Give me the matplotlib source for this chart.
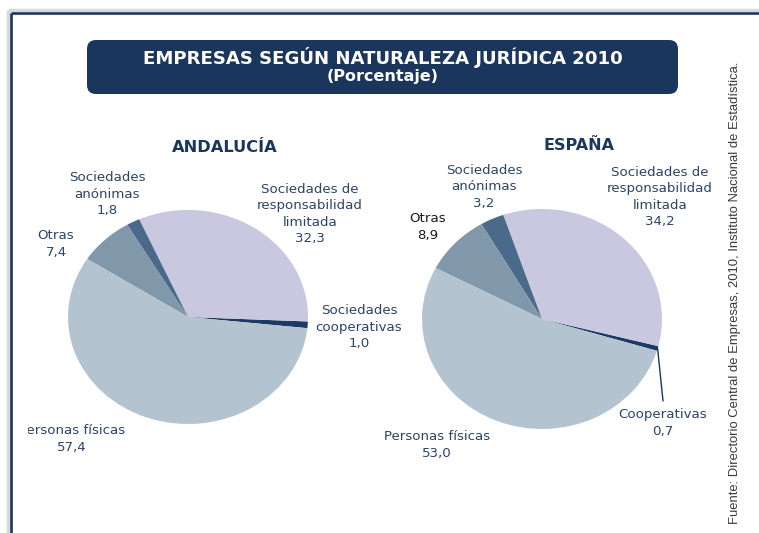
import matplotlib.pyplot as plt
import numpy as np
from matplotlib.patches import ConnectionPatch, FancyBboxPatch, Rectangle

W, H = 759, 533

# datos (porcentaje), en orden antihorario desde las 3 en punto
categories = ["Cooperativas", "Sociedades de responsabilidad limitada",
              "Sociedades anónimas", "Otras", "Personas físicas"]
andalucia_values = [1.0, 32.3, 1.8, 7.4, 57.4]
espana_values = [0.7, 34.2, 3.2, 8.9, 53.0]

andalucia_labels = ["Sociedades\ncooperativas", "Sociedades de\nresponsabilidad\nlimitada",
                    "Sociedades\nanónimas", "Otras", "Personas físicas"]
espana_labels = ["Cooperativas", "Sociedades de\nresponsabilidad\nlimitada",
                 "Sociedades\nanónimas", "Otras", "Personas físicas"]

colors = ["#1d3a66", "#cac8e0", "#4b6a8a", "#8197aa", "#b3c3cf"]
NAVY = "#1b365d"
TEXT = "#2c4466"

# posiciones de las etiquetas (pixeles de la imagen)
andalucia_label_pos = [(359, 327), (310, 214), (107, 194), (56, 244), (72, 439)]
espana_label_pos = [(663, 423), (660, 197), (484, 187), (428, 227), (437, 445)]


def fmt(v):
    return f"{v:.1f}".replace(".", ",")


fig = plt.figure(figsize=(W / 100, H / 100), dpi=100)
bg = fig.add_axes([0, 0, 1, 1])
bg.set_xlim(0, W)
bg.set_ylim(H, 0)
bg.axis("off")

# marco
bg.plot([8, 8], [10, H], color="#d8d8d8", lw=2.5, solid_capstyle="butt")
bg.plot([8, W], [10, 10], color="#d8d8d8", lw=2.5, solid_capstyle="butt")
bg.plot([10.5, 10.5], [12.5, H], color=NAVY, lw=1.9, solid_capstyle="butt")
bg.plot([10.5, W], [12.5, 12.5], color=NAVY, lw=1.9, solid_capstyle="butt")

# caja del titulo
bg.add_patch(FancyBboxPatch((87, 40), 591, 54, boxstyle="round,pad=0,rounding_size=9",
                            facecolor="#1b365d", edgecolor="none"))
bg.text(382.5, 57.5, "EMPRESAS SEGÚN NATURALEZA JURÍDICA 2010", ha="center", va="center",
        color="white", fontsize=13.1, fontweight="bold")
bg.text(382.5, 77, "(Porcentaje)", ha="center", va="center",
        color="white", fontsize=11.5, fontweight="bold")

bg.text(225, 147, "ANDALUCÍA", ha="center", va="center", color=NAVY,
        fontsize=11.7, fontweight="bold")
bg.text(579, 145, "ESPAÑA", ha="center", va="center", color=NAVY,
        fontsize=11.5, fontweight="bold")

bg.text(735, 292.5, "Fuente: Directorio Central de Empresas, 2010, Instituto Nacional de Estadística.",
        rotation=90, ha="center", va="center", color="#3a3a3a", fontsize=9.4,
        family=["Liberation Sans", "DejaVu Sans"])


def draw_pie(values, cx, cy, rx, ry, start):
    k = 1.02
    ax = fig.add_axes([(cx - rx * k) / W, (H - cy - ry * k) / H, 2 * rx * k / W, 2 * ry * k / H])
    wedges, _ = ax.pie(values, colors=colors, startangle=start, counterclock=True,
                       wedgeprops=dict(linewidth=0))
    ax.set_aspect("auto")
    ax.set_xlim(-k, k)
    ax.set_ylim(-k, k)
    ax.axis("off")
    return ax, wedges


draw_pie(andalucia_values, 188, 317, 120, 107, -6.0)
ax_es, wedges_es = draw_pie(espana_values, 542, 319, 120, 110, -16.8)

# el borde del grafico original recorta la "P" de "Personas físicas"
clip = Rectangle((27.5, 0), W - 27.5, H, transform=bg.transData)
for lab, v, (x, y) in zip(andalucia_labels, andalucia_values, andalucia_label_pos):
    t = bg.text(x, y, f"{lab}\n{fmt(v)}", ha="center", va="center", multialignment="center",
                color=TEXT, fontsize=9.6, linespacing=1.32)
    t.set_clip_on(True)
    t.set_clip_path(clip)

for i, (lab, v, (x, y)) in enumerate(zip(espana_labels, espana_values, espana_label_pos)):
    c = "#1a1a1a" if categories[i] == "Otras" else TEXT
    bg.text(x, y, f"{lab}\n{fmt(v)}", ha="center", va="center", multialignment="center",
            color=c, fontsize=9.6, linespacing=1.32)

# linea guia de cooperativas (España)
w = wedges_es[0]
mid = np.deg2rad((w.theta1 + w.theta2) / 2)
con = ConnectionPatch(xyA=(np.cos(mid), np.sin(mid)), coordsA=ax_es.transData,
                      xyB=(663, 401), coordsB=bg.transData, color=NAVY, lw=1.0)
fig.add_artist(con)

fig.savefig("out.png", dpi=100)
